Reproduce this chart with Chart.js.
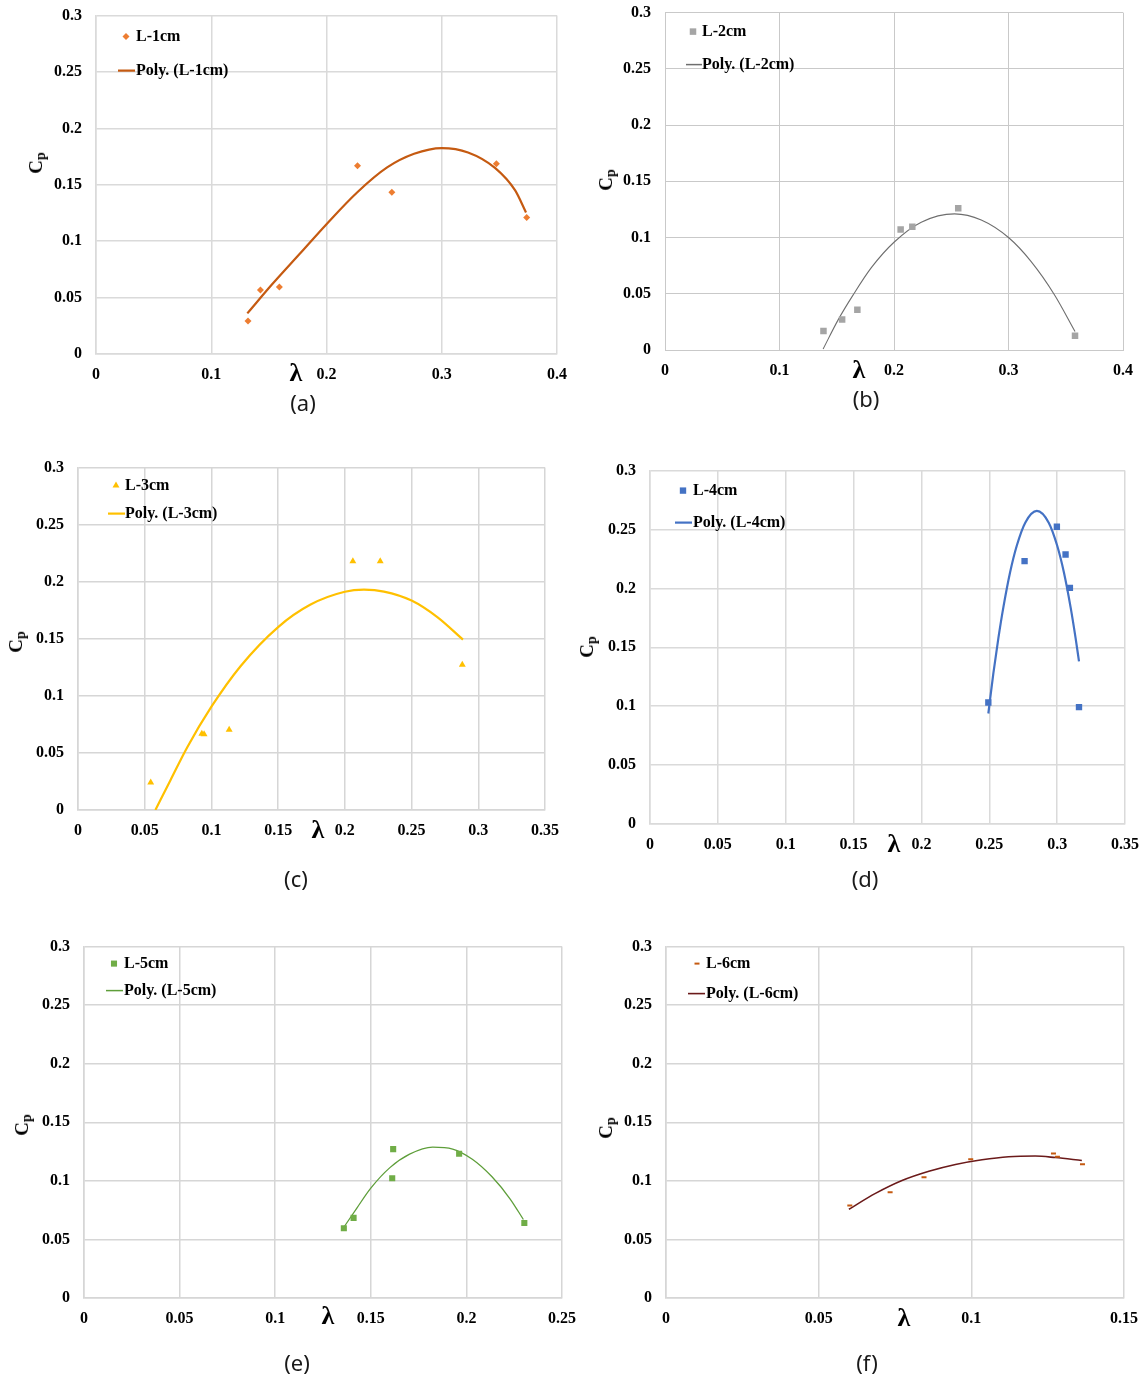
<!DOCTYPE html>
<html>
<head>
<meta charset="utf-8">
<script src="https://cdn.jsdelivr.net/npm/chart.js@4.4.1/dist/chart.umd.min.js"></script>
<style>
  body { margin: 0; background: #fff; width: 1143px; height: 1376px; position: relative; overflow: hidden; }
  canvas { position: absolute; }
  .lam { position: absolute; font: bold 26px "Liberation Serif", serif; transform: translate(-50%, -50%); color: #000; }
  .cp { position: absolute; font: bold 19px "Liberation Serif", serif; transform: translate(-50%, -50%) rotate(-90deg); color: #000; white-space: nowrap; }
  .cp span { font-size: 14px; position: relative; top: 3px; }
  .cap { position: absolute; font: 22px "Noto Sans", sans-serif; transform: translate(-50%, -50%); color: #1a1a1a; }
</style>
</head>
<body>
<script>
// tick labels
const cpTicks = [0, 0.05, 0.1, 0.15, 0.2, 0.25, 0.3];
const lambdaTicks40 = [0, 0.1, 0.2, 0.3, 0.4];
const lambdaTicks35 = [0, 0.05, 0.1, 0.15, 0.2, 0.25, 0.3, 0.35];
const lambdaTicks25 = [0, 0.05, 0.1, 0.15, 0.2, 0.25];
const lambdaTicks15 = [0, 0.05, 0.1, 0.15];

// (a) L-1cm
const lambda1 = [0.1319, 0.1427, 0.1591, 0.2269, 0.2567, 0.3474, 0.3737];
const cp1 = [0.0293, 0.0568, 0.0594, 0.1669, 0.1435, 0.1686, 0.1210];
const polyLambda1 = [0.1313, 0.1532, 0.1766, 0.2, 0.2263, 0.2526, 0.276, 0.3, 0.3228, 0.3462, 0.3637, 0.3731];
const polyCp1 = [0.036, 0.0622, 0.0886, 0.1151, 0.1430, 0.1654, 0.1775, 0.1826, 0.1787, 0.1650, 0.1450, 0.1255];

// (b) L-2cm
const lambda2 = [0.1384, 0.1547, 0.168, 0.2058, 0.216, 0.2561, 0.3581];
const cp2 = [0.0169, 0.0272, 0.0358, 0.1071, 0.1095, 0.1261, 0.0127];
const polyLambda2 = [0.1381, 0.1512, 0.1642, 0.1802, 0.2, 0.2238, 0.2529, 0.2762, 0.3, 0.3198, 0.3401, 0.3581];
const polyCp2 = [0.0009, 0.0268, 0.0488, 0.0732, 0.0958, 0.1136, 0.1210, 0.1156, 0.1, 0.0786, 0.0492, 0.0165];

// (c) L-3cm
const lambda3 = [0.0545, 0.0928, 0.0945, 0.1133, 0.206, 0.2265, 0.288];
const cp3 = [0.024, 0.0669, 0.0663, 0.0704, 0.2179, 0.2179, 0.1273];
const polyLambda3 = [0.058, 0.0693, 0.0818, 0.1, 0.1218, 0.15, 0.1743, 0.2, 0.2143, 0.2293, 0.25, 0.2693, 0.2885];
const polyCp3 = [0, 0.0261, 0.0548, 0.0905, 0.1260, 0.1603, 0.1800, 0.1912, 0.1930, 0.1914, 0.1835, 0.1690, 0.1493];

// (d) L-4cm
const lambda4 = [0.2493, 0.276, 0.2998, 0.3062, 0.3094, 0.3161];
const cp4 = [0.1031, 0.2231, 0.2523, 0.2288, 0.2005, 0.0992];
const polyLambda4 = [0.2493, 0.253, 0.2567, 0.2604, 0.2653, 0.2703, 0.2765, 0.2851, 0.2938, 0.3, 0.305, 0.3099, 0.3136, 0.3161];
const polyCp4 = [0.0938, 0.1278, 0.1578, 0.1841, 0.2135, 0.2364, 0.2558, 0.2658, 0.2558, 0.2364, 0.2135, 0.1841, 0.1578, 0.1381];

// (e) L-5cm
const lambda5 = [0.1359, 0.141, 0.1612, 0.1617, 0.1962, 0.2303];
const cp5 = [0.0595, 0.0684, 0.1023, 0.1271, 0.1231, 0.0641];
const polyLambda5 = [0.1359, 0.1428, 0.15, 0.16, 0.1703, 0.1824, 0.1928, 0.2031, 0.2134, 0.2229, 0.2298];
const polyCp5 = [0.0604, 0.0770, 0.0938, 0.1113, 0.1228, 0.1288, 0.1272, 0.1185, 0.1035, 0.0845, 0.0670];

// (f) L-6cm
const lambda6 = [0.0602, 0.0734, 0.0845, 0.0998, 0.1269, 0.1282, 0.1364];
const cp6 = [0.0789, 0.0903, 0.1031, 0.1185, 0.1234, 0.1205, 0.1142];
const polyLambda6 = [0.0599, 0.0686, 0.0773, 0.0861, 0.0948, 0.1035, 0.1122, 0.1209, 0.1275, 0.1362];
const polyCp6 = [0.0758, 0.0893, 0.1003, 0.1082, 0.1140, 0.1180, 0.1206, 0.1212, 0.1199, 0.1174];

const pts = (xs, ys) => xs.map((x, i) => ({ x: x, y: ys[i] }));
const fmt = v => String(parseFloat(Number(v).toFixed(3)));
const tickFont = { family: "'Liberation Serif', serif", size: 16, weight: 'bold' };

// legend drawn inside the plot area, like the Excel charts
const insideLegend = {
  id: 'insideLegend',
  afterDraw(chart, args, opts) {
    const ctx = chart.ctx;
    const a = chart.chartArea;
    const ds0 = chart.data.datasets[0];
    const ds1 = chart.data.datasets[1];
    ctx.save();
    ctx.fillStyle = ds0.pointBackgroundColor;
    ctx.strokeStyle = ds0.pointBorderColor || ds0.pointBackgroundColor;
    ctx.lineWidth = ds0.pointBorderWidth || 0;
    Chart.helpers.drawPoint(ctx, {
      pointStyle: ds0.pointStyle, radius: ds0.pointRadius, rotation: 0,
      borderWidth: ds0.pointBorderWidth || 0
    }, a.left + opts.markerX, a.top + opts.row1);
    ctx.strokeStyle = ds1.borderColor;
    ctx.lineWidth = Math.max(ds1.borderWidth, 1.5);
    ctx.beginPath();
    ctx.moveTo(a.left + opts.lineX0, a.top + opts.row2);
    ctx.lineTo(a.left + opts.lineX1, a.top + opts.row2);
    ctx.stroke();
    ctx.fillStyle = '#000';
    ctx.font = "bold 16px 'Liberation Serif', serif";
    ctx.textBaseline = 'middle';
    ctx.fillText(ds0.label, a.left + opts.textX, a.top + opts.row1);
    ctx.fillText(ds1.label, a.left + opts.textX, a.top + opts.row2);
    ctx.restore();
  }
};

const panels = [
  { name: 'L-1cm', xs: lambda1, ys: cp1, px: polyLambda1, py: polyCp1, xTicks: lambdaTicks40,
    plot: [96, 16, 557, 354], color: '#ED7D31', lineColor: '#C55A11', lineWidth: 2.2,
    style: 'rectRot', radius: 3.5, grid: '#dadada', gridW: 1.5,
    legend: { markerX: 30, textX: 40, row1: 21, row2: 55, lineX0: 22, lineX1: 39 },
    lam: [296, 373], cp: [36, 163], cap: ['(a)', 303, 402] },
  { name: 'L-2cm', xs: lambda2, ys: cp2, px: polyLambda2, py: polyCp2, xTicks: lambdaTicks40,
    plot: [665, 13, 1123, 350], color: '#A5A5A5', lineColor: '#6e6e6e', lineWidth: 1.1,
    style: 'rect', radius: 4.6, grid: '#c9c9c9', gridW: 1,
    legend: { markerX: 28, textX: 37, row1: 19, row2: 52, lineX0: 21, lineX1: 37 },
    lam: [859, 370], cp: [606, 180], cap: ['(b)', 866, 398] },
  { name: 'L-3cm', xs: lambda3, ys: cp3, px: polyLambda3, py: polyCp3, xTicks: lambdaTicks35,
    plot: [78, 468, 545, 810], color: '#FFC000', lineColor: '#FFC000', lineWidth: 2.2,
    style: 'triangle', radius: 4, grid: '#d6d6d6', gridW: 1.5,
    legend: { markerX: 38, textX: 47, row1: 18, row2: 46, lineX0: 30, lineX1: 47 },
    lam: [318, 830], cp: [16, 642], cap: ['(c)', 296, 878] },
  { name: 'L-4cm', xs: lambda4, ys: cp4, px: polyLambda4, py: polyCp4, xTicks: lambdaTicks35,
    plot: [650, 471, 1125, 824], color: '#4472C4', lineColor: '#4472C4', lineWidth: 2.2,
    style: 'rect', radius: 4.5, grid: '#dadada', gridW: 1.5,
    legend: { markerX: 33, textX: 43, row1: 20, row2: 52, lineX0: 25, lineX1: 42 },
    lam: [894, 844], cp: [587, 647], cap: ['(d)', 865, 878] },
  { name: 'L-5cm', xs: lambda5, ys: cp5, px: polyLambda5, py: polyCp5, xTicks: lambdaTicks25,
    plot: [84, 947, 562, 1298], color: '#70AD47', lineColor: '#5E9E3A', lineWidth: 1.3,
    style: 'rect', radius: 4.3, grid: '#d6d6d6', gridW: 1.5,
    legend: { markerX: 30, textX: 40, row1: 17, row2: 44, lineX0: 22, lineX1: 39 },
    lam: [328, 1316], cp: [22, 1125], cap: ['(e)', 297, 1362] },
  { name: 'L-6cm', xs: lambda6, ys: cp6, px: polyLambda6, py: polyCp6, xTicks: lambdaTicks15,
    plot: [666, 947, 1124, 1298], color: '#C55A11', lineColor: '#6B1A1A', lineWidth: 1.6,
    style: 'line', radius: 2.5, grid: '#d6d6d6', gridW: 1.5,
    legend: { markerX: 31, textX: 40, row1: 17, row2: 47, lineX0: 22, lineX1: 39 },
    lam: [904, 1318], cp: [606, 1128], cap: ['(f)', 867, 1362] }
];

// the y axis reserves half a label + tick padding above the plot (about 24px)
const Y_W = 70, X_H = 40, OFF_T = 24, PAD_R = 26;

panels.forEach(p => {
  const [l, t, r, b] = p.plot;
  const canvas = document.createElement('canvas');
  canvas.width = (r - l) + Y_W + PAD_R;
  canvas.height = (b - t) + OFF_T + X_H;
  canvas.style.left = (l - Y_W) + 'px';
  canvas.style.top = (t - OFF_T) + 'px';
  document.body.appendChild(canvas);

  new Chart(canvas, {
    type: 'scatter',
    data: {
      datasets: [
        {
          label: p.name,
          data: pts(p.xs, p.ys),
          pointStyle: p.style,
          pointRadius: p.radius,
          pointBackgroundColor: p.color,
          pointBorderColor: p.color,
          pointBorderWidth: p.style === 'line' ? 2 : 0,
          showLine: false
        },
        {
          label: 'Poly. (' + p.name + ')',
          data: pts(p.px, p.py),
          showLine: true,
          borderColor: p.lineColor,
          borderWidth: p.lineWidth,
          pointRadius: 0,
          cubicInterpolationMode: 'monotone',
          fill: false
        }
      ]
    },
    options: {
      responsive: false,
      animation: false,
      layout: { padding: { top: 0, right: PAD_R, left: 0, bottom: 0 } },
      plugins: {
        legend: { display: false },
        tooltip: { enabled: false },
        insideLegend: p.legend
      },
      scales: {
        x: {
          type: 'linear', min: 0, max: p.xTicks[p.xTicks.length - 1],
          afterBuildTicks: s => { s.ticks = p.xTicks.map(v => ({ value: v })); },
          afterFit: s => { s.height = X_H; },
          grid: { color: p.grid, lineWidth: p.gridW, drawTicks: false },
          border: { color: p.grid, width: p.gridW },
          ticks: { autoSkip: false, maxRotation: 0, padding: 11, color: '#000', font: tickFont, callback: fmt }
        },
        y: {
          type: 'linear', min: 0, max: 0.3,
          afterBuildTicks: s => { s.ticks = cpTicks.map(v => ({ value: v })); },
          afterFit: s => { s.width = Y_W; },
          grid: { color: p.grid, lineWidth: p.gridW, drawTicks: false },
          border: { color: p.grid, width: p.gridW },
          ticks: { autoSkip: false, padding: 14, color: '#000', font: tickFont, callback: fmt }
        }
      }
    },
    plugins: [insideLegend]
  });

  const lam = document.createElement('div');
  lam.className = 'lam';
  lam.textContent = 'λ';
  lam.style.left = p.lam[0] + 'px';
  lam.style.top = p.lam[1] + 'px';
  document.body.appendChild(lam);

  const cp = document.createElement('div');
  cp.className = 'cp';
  cp.innerHTML = 'C<span>p</span>';
  cp.style.left = p.cp[0] + 'px';
  cp.style.top = p.cp[1] + 'px';
  document.body.appendChild(cp);

  const cap = document.createElement('div');
  cap.className = 'cap';
  cap.textContent = p.cap[0];
  cap.style.left = p.cap[1] + 'px';
  cap.style.top = p.cap[2] + 'px';
  document.body.appendChild(cap);
});
</script>
</body>
</html>
